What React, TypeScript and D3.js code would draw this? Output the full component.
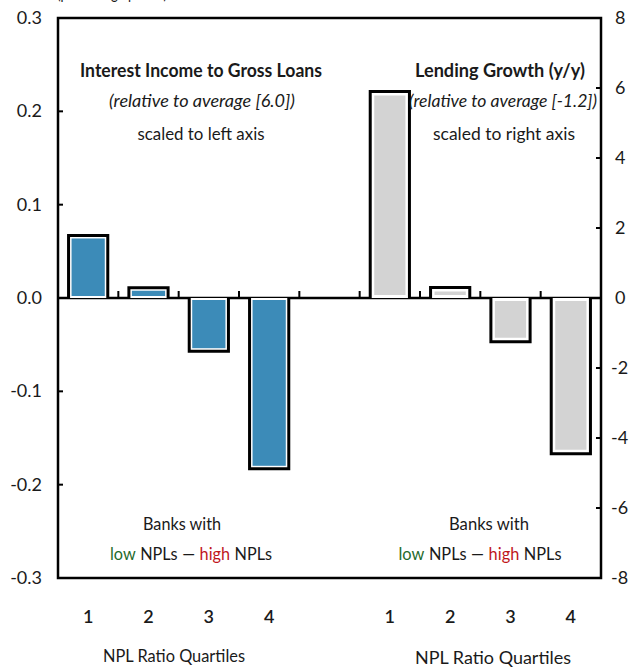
import React, { useRef, useEffect } from 'react';
import { select, scaleBand, scaleLinear } from 'd3';

// values
const quartiles = ['1', '2', '3', '4'];
const interestIncome = [0.067, 0.011, -0.057, -0.183]; // left axis
const lendingGrowth = [5.9, 0.3, -1.25, -4.45]; // right axis
const leftTicks = [-0.3, -0.2, -0.1, 0, 0.1, 0.2, 0.3];
const rightTicks = [-8, -6, -4, -2, 0, 2, 4, 6, 8];
const leftTickLabels = ['-0.3', '-0.2', '-0.1', '0.0', '0.1', '0.2', '0.3'];

const W = 634;
const H = 669;
const FONT = 'Lato, "Open Sans", sans-serif';

export default function App() {
  const svgRef = useRef<SVGSVGElement>(null);

  useEffect(() => {
    const svg = select(svgRef.current);
    svg.selectAll('*').remove();

    const left = 58, right = 601, top = 18, bottom = 578;

    // 4 left slots, 1 empty, 4 right slots
    const slots = [...quartiles.map(q => 'L' + q), 'gap', ...quartiles.map(q => 'R' + q)];
    const x = scaleBand().domain(slots).range([left, right]).paddingInner(0.35).paddingOuter(0.175);
    const yL = scaleLinear().domain([-0.3, 0.3]).range([bottom, top]);
    const yR = scaleLinear().domain([-8, 8]).range([bottom, top]);

    const step = x.step();
    const bw = x.bandwidth();

    // zero line
    svg.append('line')
      .attr('x1', left).attr('x2', right)
      .attr('y1', yL(0)).attr('y2', yL(0))
      .attr('stroke', '#000').attr('stroke-width', 2.5);

    // ticks on the zero line between categories
    const boundaries = slots.slice(1).map(s => (x(s) as number) - (step - bw) / 2);
    svg.selectAll('.xtick').data(boundaries).join('line')
      .attr('class', 'xtick')
      .attr('x1', d => d).attr('x2', d => d)
      .attr('y1', yL(0)).attr('y2', yL(0) - 7)
      .attr('stroke', '#000').attr('stroke-width', 2);

    const bars = [
      ...interestIncome.map((v, i) => ({ slot: 'L' + quartiles[i], y0: yL(0), y1: yL(v), fill: '#3c8bb8', inset: 2 })),
      ...lendingGrowth.map((v, i) => ({ slot: 'R' + quartiles[i], y0: yR(0), y1: yR(v), fill: '#d3d3d3', inset: 3 })),
    ];

    const g = svg.append('g');
    bars.forEach(b => {
      const x0 = x(b.slot) as number;
      const x1 = x0 + bw;
      const up = b.y1 < b.y0;
      // white underlay, hides the zero line under the bar
      g.append('rect')
        .attr('x', x0).attr('width', bw)
        .attr('y', Math.min(b.y0, b.y1)).attr('height', Math.abs(b.y1 - b.y0))
        .attr('fill', '#fff');
      // black outline on three sides
      g.append('path')
        .attr('d', `M${x0},${b.y0}L${x0},${b.y1}L${x1},${b.y1}L${x1},${b.y0}`)
        .attr('fill', 'none').attr('stroke', '#000').attr('stroke-width', 3)
        .attr('stroke-linejoin', 'miter');
      const h = Math.abs(b.y1 - b.y0) - b.inset * 2 - 1;
      g.append('rect')
        .attr('x', x0 + b.inset + 1).attr('width', bw - 2 * b.inset - 2)
        .attr('y', up ? b.y1 + b.inset + 1 : b.y0 + b.inset)
        .attr('height', Math.max(0, h))
        .attr('fill', b.fill);
    });

    // frame
    svg.append('rect')
      .attr('x', left).attr('y', top).attr('width', right - left).attr('height', bottom - top)
      .attr('fill', 'none').attr('stroke', '#000').attr('stroke-width', 2.5);

    // left axis ticks + labels
    svg.selectAll('.ltick').data(leftTicks).join('line')
      .attr('class', 'ltick')
      .attr('x1', left).attr('x2', left + 5)
      .attr('y1', d => yL(d)).attr('y2', d => yL(d))
      .attr('stroke', '#000').attr('stroke-width', 2);
    svg.selectAll('.llab').data(leftTicks).join('text')
      .attr('class', 'llab')
      .attr('x', 42).attr('y', d => yL(d) + 6)
      .attr('text-anchor', 'end')
      .style('font', `18px ${FONT}`).attr('fill', '#1a1a1a')
      .text((d, i) => leftTickLabels[i]);

    // right axis ticks + labels
    svg.selectAll('.rtick').data(rightTicks).join('line')
      .attr('class', 'rtick')
      .attr('x1', right).attr('x2', right - 5)
      .attr('y1', d => yR(d)).attr('y2', d => yR(d))
      .attr('stroke', '#000').attr('stroke-width', 2);
    svg.selectAll('.rlab').data(rightTicks).join('text')
      .attr('class', 'rlab')
      .attr('x', d => (d < 0 ? 611 : 615)).attr('y', d => yR(d) + 6)
      .attr('text-anchor', 'start')
      .style('font', `18px ${FONT}`).attr('fill', '#1a1a1a')
      .text(d => String(d));

    // quartile numbers under the chart
    svg.selectAll('.qlab').data(slots.filter(s => s !== 'gap')).join('text')
      .attr('class', 'qlab')
      .attr('x', d => (x(d) as number) + bw / 2).attr('y', 623)
      .attr('text-anchor', 'middle')
      .style('font', `600 18px ${FONT}`).attr('fill', '#1a1a1a')
      .text(d => d.slice(1));

    const label = (txt: string, cx: number, y: number, len: number, weight = 'normal', style = 'normal') =>
      svg.append('text')
        .attr('x', cx).attr('y', y).attr('text-anchor', 'middle')
        .attr('textLength', len).attr('lengthAdjust', 'spacingAndGlyphs')
        .style('font-family', FONT).style('font-size', '18px')
        .style('font-weight', weight).style('font-style', style)
        .attr('fill', '#1a1a1a')
        .text(txt);

    label('(percentage points)', 112, -1, 110);

    label('Interest Income to Gross Loans', 201, 77, 242, 'bold');
    label('(relative to average [6.0])', 202, 107, 186, 'normal', 'italic');
    label('scaled to left axis', 201, 140, 127);

    label('Lending Growth (y/y)', 500, 77, 170, 'bold');
    label('(relative to average [-1.2])', 503, 107, 188, 'normal', 'italic');
    label('scaled to right axis', 504, 140, 142);

    label('Banks with', 182, 530, 78);
    label('Banks with', 489, 530, 80);

    // "low NPLs — high NPLs" as separate words laid out side by side
    const npl = (cx: number, len: number) => {
      const pieces = [
        { t: 'low', c: '#1f6b2c' },
        { t: 'NPLs', c: '#1a1a1a' },
        { t: '\u2014', c: '#1a1a1a' },
        { t: 'high', c: '#c0161c' },
        { t: 'NPLs', c: '#1a1a1a' },
      ];
      const gap = 5;
      const nodes = pieces.map(p =>
        svg.append('text')
          .attr('y', 560)
          .style('font', `18px ${FONT}`).attr('fill', p.c)
          .text(p.t));
      const widths = nodes.map(n => (n.node() as SVGTextElement).getComputedTextLength());
      const k = len / (widths.reduce((a, b) => a + b, 0) + gap * (pieces.length - 1));
      let cur = cx - len / 2;
      nodes.forEach((n, i) => {
        const w = widths[i] * k;
        n.attr('x', cur).attr('textLength', w).attr('lengthAdjust', 'spacingAndGlyphs');
        cur += w + gap * k;
      });
    };
    npl(191, 162);
    npl(480, 163);

    label('NPL Ratio Quartiles', 174, 662, 142);
    label('NPL Ratio Quartiles', 493, 664, 156);
  }, []);

  return (
    <div style={{ position: 'absolute', left: 0, top: 0, background: '#fff' }}>
      <svg ref={svgRef} width={W} height={H} style={{ display: 'block' }} />
    </div>
  );
}
